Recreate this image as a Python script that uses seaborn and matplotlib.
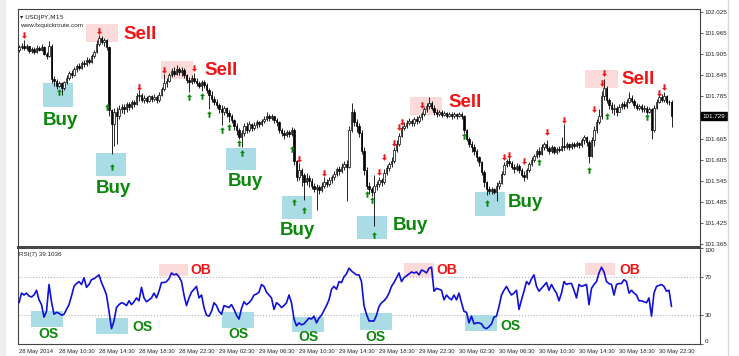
import numpy as np
import pandas as pd
import matplotlib
matplotlib.use("Agg")
import matplotlib.pyplot as plt
from matplotlib.patches import Rectangle
from matplotlib.transforms import blended_transform_factory
import seaborn as sns

# USDJPY M15 candles (bar 0 = 28 May 06:30)
first_open = 101.918
closes = [
    101.925, 101.930, 101.922, 101.928, 101.915, 101.921, 101.912, 101.924, 101.918, 101.926,
    101.905, 101.900, 101.930, 101.835, 101.828, 101.815, 101.822, 101.810, 101.825, 101.838,
    101.852, 101.846, 101.862, 101.871, 101.866, 101.880, 101.876, 101.890, 101.884, 101.899,
    101.912, 101.935, 101.952, 101.940, 101.945, 101.925, 101.745, 101.705, 101.740, 101.728,
    101.748, 101.755, 101.748, 101.762, 101.756, 101.770, 101.764, 101.785, 101.790, 101.776,
    101.781, 101.772, 101.785, 101.778, 101.784, 101.776, 101.790, 101.805, 101.822, 101.830,
    101.845, 101.858, 101.850, 101.862, 101.855, 101.860, 101.846, 101.832, 101.826, 101.838,
    101.830, 101.822, 101.815, 101.826, 101.818, 101.802, 101.790, 101.778, 101.770, 101.760,
    101.748, 101.740, 101.752, 101.738, 101.728, 101.718, 101.700, 101.688, 101.670, 101.682,
    101.700, 101.690, 101.706, 101.695, 101.703, 101.712, 101.705, 101.716, 101.722, 101.730,
    101.724, 101.728, 101.718, 101.712, 101.690, 101.682, 101.675, 101.684, 101.678, 101.690,
    101.600, 101.555, 101.575, 101.560, 101.540, 101.552, 101.545, 101.530, 101.522, 101.528,
    101.518, 101.530, 101.542, 101.536, 101.548, 101.556, 101.565, 101.578, 101.572, 101.585,
    101.592, 101.585, 101.690, 101.740, 101.712, 101.700, 101.680, 101.630, 101.575, 101.530,
    101.520, 101.512, 101.530, 101.535, 101.548, 101.540, 101.568, 101.580, 101.592, 101.600,
    101.632, 101.650, 101.672, 101.695, 101.702, 101.710, 101.716, 101.708, 101.720, 101.714,
    101.726, 101.735, 101.748, 101.758, 101.765, 101.752, 101.740, 101.735, 101.740, 101.732,
    101.738, 101.730, 101.736, 101.728, 101.734, 101.730, 101.735, 101.728, 101.688, 101.665,
    101.650, 101.640, 101.630, 101.612, 101.598, 101.570, 101.540, 101.522, 101.515, 101.520,
    101.512, 101.530, 101.538, 101.565, 101.590, 101.602, 101.595, 101.585, 101.578, 101.588,
    101.575, 101.562, 101.556, 101.575, 101.592, 101.605, 101.615, 101.630, 101.622, 101.640,
    101.648, 101.638, 101.630, 101.640, 101.628, 101.636, 101.632, 101.645, 101.640, 101.648,
    101.640, 101.650, 101.644, 101.652, 101.646, 101.660, 101.668, 101.655, 101.615, 101.660,
    101.690, 101.712, 101.730, 101.785, 101.810, 101.775, 101.760, 101.748, 101.752, 101.742,
    101.755, 101.762, 101.758, 101.770, 101.780, 101.772, 101.760, 101.752, 101.758, 101.748,
    101.752, 101.742, 101.748, 101.690, 101.752, 101.770, 101.782, 101.775, 101.785, 101.770,
    101.768, 101.729,
]
highs = [
    101.931, 101.938, 101.945, 101.934, 101.930, 101.926, 101.925, 101.931, 101.928, 101.933,
    101.929, 101.912, 101.942, 101.934, 101.842, 101.834, 101.829, 101.826, 101.830, 101.845,
    101.858, 101.860, 101.868, 101.878, 101.880, 101.885, 101.889, 101.896, 101.895, 101.906,
    101.918, 101.945, 101.960, 101.957, 101.951, 101.948, 101.930, 101.748, 101.752, 101.755,
    101.760, 101.764, 101.762, 101.770, 101.768, 101.776, 101.775, 101.795, 101.802, 101.796,
    101.790, 101.786, 101.790, 101.789, 101.793, 101.788, 101.797, 101.812, 101.848, 101.838,
    101.852, 101.866, 101.868, 101.874, 101.870, 101.868, 101.865, 101.850, 101.840, 101.846,
    101.853, 101.838, 101.830, 101.833, 101.832, 101.822, 101.808, 101.800, 101.785, 101.778,
    101.766, 101.760, 101.758, 101.755, 101.745, 101.735, 101.722, 101.708, 101.695, 101.690,
    101.708, 101.712, 101.714, 101.710, 101.712, 101.718, 101.716, 101.722, 101.728, 101.740,
    101.736, 101.735, 101.730, 101.724, 101.715, 101.694, 101.690, 101.690, 101.688, 101.698,
    101.694, 101.605, 101.594, 101.580, 101.568, 101.566, 101.560, 101.552, 101.538, 101.535,
    101.532, 101.540, 101.556, 101.550, 101.555, 101.562, 101.572, 101.585, 101.588, 101.594,
    101.600, 101.605, 101.700, 101.765, 101.748, 101.722, 101.710, 101.690, 101.640, 101.585,
    101.540, 101.528, 101.560, 101.545, 101.556, 101.552, 101.578, 101.590, 101.598, 101.612,
    101.640, 101.660, 101.680, 101.702, 101.712, 101.718, 101.724, 101.722, 101.726, 101.728,
    101.732, 101.742, 101.756, 101.765, 101.782, 101.772, 101.760, 101.748, 101.746, 101.745,
    101.744, 101.742, 101.742, 101.740, 101.740, 101.738, 101.742, 101.740, 101.732, 101.692,
    101.670, 101.658, 101.648, 101.635, 101.615, 101.602, 101.575, 101.545, 101.530, 101.528,
    101.525, 101.540, 101.546, 101.572, 101.598, 101.608, 101.612, 101.600, 101.592, 101.595,
    101.592, 101.580, 101.572, 101.582, 101.598, 101.612, 101.622, 101.636, 101.640, 101.648,
    101.656, 101.660, 101.645, 101.646, 101.644, 101.642, 101.645, 101.668, 101.705, 101.655,
    101.652, 101.656, 101.655, 101.658, 101.656, 101.666, 101.676, 101.672, 101.660, 101.668,
    101.700, 101.720, 101.748, 101.800, 101.834, 101.815, 101.780, 101.768, 101.762, 101.758,
    101.764, 101.770, 101.772, 101.778, 101.798, 101.790, 101.778, 101.766, 101.764, 101.762,
    101.760, 101.758, 101.755, 101.752, 101.760, 101.778, 101.790, 101.792, 101.798, 101.788,
    101.776, 101.774,
]
lows = [
    101.912, 101.921, 101.918, 101.917, 101.910, 101.909, 101.906, 101.910, 101.913, 101.915,
    101.902, 101.892, 101.898, 101.822, 101.815, 101.806, 101.812, 101.790, 101.803, 101.820,
    101.833, 101.838, 101.842, 101.855, 101.860, 101.862, 101.870, 101.872, 101.878, 101.880,
    101.895, 101.908, 101.930, 101.933, 101.930, 101.918, 101.730, 101.622, 101.645, 101.650,
    101.722, 101.738, 101.736, 101.742, 101.747, 101.750, 101.755, 101.760, 101.772, 101.768,
    101.766, 101.765, 101.768, 101.770, 101.773, 101.767, 101.770, 101.785, 101.800, 101.812,
    101.826, 101.840, 101.843, 101.846, 101.845, 101.842, 101.838, 101.822, 101.798, 101.820,
    101.824, 101.815, 101.808, 101.800, 101.810, 101.795, 101.750, 101.770, 101.760, 101.752,
    101.738, 101.703, 101.732, 101.726, 101.712, 101.708, 101.690, 101.675, 101.663, 101.642,
    101.672, 101.680, 101.684, 101.686, 101.690, 101.696, 101.698, 101.700, 101.708, 101.714,
    101.716, 101.718, 101.710, 101.700, 101.682, 101.672, 101.665, 101.668, 101.670, 101.672,
    101.590, 101.545, 101.548, 101.530, 101.490, 101.532, 101.528, 101.520, 101.512, 101.462,
    101.508, 101.512, 101.525, 101.526, 101.530, 101.538, 101.548, 101.558, 101.562, 101.566,
    101.574, 101.488, 101.580, 101.685, 101.700, 101.685, 101.670, 101.620, 101.560, 101.520,
    101.508, 101.500, 101.416, 101.518, 101.526, 101.530, 101.536, 101.560, 101.572, 101.585,
    101.596, 101.628, 101.645, 101.668, 101.688, 101.696, 101.704, 101.700, 101.702, 101.706,
    101.710, 101.718, 101.730, 101.742, 101.750, 101.745, 101.732, 101.725, 101.728, 101.726,
    101.728, 101.724, 101.726, 101.722, 101.724, 101.722, 101.726, 101.720, 101.680, 101.658,
    101.640, 101.628, 101.618, 101.600, 101.586, 101.560, 101.528, 101.505, 101.508, 101.508,
    101.506, 101.488, 101.522, 101.535, 101.560, 101.585, 101.588, 101.578, 101.568, 101.572,
    101.566, 101.555, 101.545, 101.550, 101.570, 101.586, 101.598, 101.610, 101.612, 101.618,
    101.632, 101.630, 101.622, 101.625, 101.620, 101.622, 101.626, 101.630, 101.632, 101.635,
    101.632, 101.636, 101.638, 101.640, 101.638, 101.642, 101.650, 101.645, 101.594, 101.612,
    101.645, 101.682, 101.705, 101.720, 101.775, 101.765, 101.748, 101.738, 101.732, 101.730,
    101.740, 101.748, 101.750, 101.752, 101.765, 101.765, 101.752, 101.745, 101.745, 101.740,
    101.742, 101.736, 101.738, 101.665, 101.685, 101.748, 101.765, 101.768, 101.770, 101.762,
    101.760, 101.697,
]
rsi_values = [
    43, 53, 51, 53, 50, 49, 51, 56, 46, 41,
    28, 34, 62, 44, 31, 33, 32, 30, 31, 36,
    41, 50, 60, 63, 65, 62, 69, 59, 62, 67,
    68, 70, 72, 64, 58, 51, 34, 16, 24, 38,
    41, 43, 42, 40, 45, 41, 44, 48, 45, 59,
    48, 44, 46, 48, 53, 48, 55, 64, 64, 65,
    68, 74, 72, 73, 70, 65, 51, 40, 48, 54,
    57, 60, 48, 51, 38, 30, 29, 34, 43, 40,
    34, 31, 40, 39, 38, 41, 36, 30, 26, 37,
    44, 41, 43, 46, 51, 52, 54, 62, 60, 54,
    51, 48, 36, 43, 41, 38, 40, 43, 51, 43,
    26, 19, 22, 20, 21, 24, 27, 26, 29, 22,
    27, 30, 35, 40, 46, 57, 60, 57, 65, 64,
    70, 73, 79, 76, 74, 72, 72, 65, 40, 31,
    24, 24, 24, 30, 39, 43, 45, 48, 53, 60,
    64, 69, 74, 65, 69, 71, 73, 75, 74, 75,
    72, 77, 76, 74, 79, 80, 55, 58, 57, 56,
    46, 51, 48, 46, 51, 46, 53, 43, 34, 33,
    22, 29, 21, 22, 22, 21, 17, 16, 18, 21,
    28, 29, 39, 51, 56, 60, 55, 51, 53, 56,
    36, 46, 55, 65, 62, 68, 72, 60, 55, 58,
    61, 64, 56, 62, 57, 53, 45, 53, 65, 62,
    63, 63, 56, 48, 62, 60, 61, 62, 41, 58,
    62, 65, 74, 80, 75, 65, 63, 62, 51, 62,
    63, 63, 67, 65, 53, 56, 53, 51, 45, 45,
    44, 43, 48, 29, 53, 60, 61, 62, 60, 55,
    56, 39.1036,
]

# signal arrows: bar index and price
sell_bars = [2, 32, 48, 58, 70, 112, 122, 144, 146, 150, 152, 153, 161,
             194, 196, 202, 211, 218, 230, 233, 234, 256, 258]
sell_prices = [101.959, 101.971, 101.813, 101.859, 101.865, 101.608, 101.568,
               101.571, 101.611, 101.651, 101.697, 101.711, 101.760, 101.611,
               101.619, 101.602, 101.685, 101.719, 101.748, 101.822, 101.851,
               101.794, 101.811]
buy_bars = [16, 35, 37, 68, 73, 76, 81, 84, 88, 89, 109, 110, 114, 139,
            141, 142, 178, 187, 208, 228, 235, 251]
buy_prices = [101.798, 101.756, 101.585, 101.782, 101.785, 101.736, 101.688,
              101.699, 101.651, 101.625, 101.636, 101.485, 101.462, 101.508,
              101.490, 101.391, 101.671, 101.482, 101.599, 101.576, 101.728,
              101.725]

date_labels = ["28 May 2014", "28 May 10:30", "28 May 14:30", "28 May 18:30",
               "28 May 22:30", "29 May 02:30", "29 May 06:30", "29 May 10:30",
               "29 May 14:30", "29 May 18:30", "29 May 22:30", "30 May 02:30",
               "30 May 06:30", "30 May 10:30", "30 May 14:30", "30 May 18:30",
               "30 May 22:30"]
price_ticks = [101.365, 101.425, 101.485, 101.545, 101.605, 101.665,
               101.785, 101.845, 101.905, 101.965, 102.025]
rsi_ticks = [0, 30, 70, 100]
last_price = 101.729

# highlight boxes (x0, x1, y0, y1) and label spots
buy_boxes = [(9.6, 21.6, 101.754, 101.822), (30.8, 42.8, 101.559, 101.625),
             (82.8, 94.8, 101.574, 101.639), (105, 117, 101.437, 101.502),
             (135, 147, 101.379, 101.445), (182.4, 194.4, 101.445, 101.514)]
buy_text = [(16.4, 101.716), (37.6, 101.522), (90.4, 101.542),
            (111.2, 101.402), (156.4, 101.416), (202.4, 101.482)]
sell_boxes = [(26.8, 39.6, 101.939, 101.991), (56.8, 69.6, 101.834, 101.885),
              (156.4, 169.2, 101.731, 101.782), (226.4, 239.6, 101.808, 101.859)]
sell_text = [(48.4, 101.962), (80.8, 101.859), (178.4, 101.768), (247.6, 101.834)]
os_boxes = [(4.8, 17.6, 17.7, 34.1), (30.8, 43.6, 10.5, 26.9), (81.2, 94, 16.7, 33.1),
            (109.2, 122, 12.6, 27.9), (136.4, 149.2, 14.6, 32), (178.4, 191.2, 13.6, 30)]
os_text = [(11.6, 10.5), (49.2, 17.7), (87.6, 10.5), (115.6, 7.4), (142.4, 7.4), (196.4, 18.7)]
ob_boxes = [(56, 67.6, 71, 83.3), (154, 166, 70, 84.4), (226.4, 238.4, 72, 84.4)]
ob_text = [(72.8, 77.2), (171.2, 77.2), (244.4, 77.2)]

BOX_BLUE = "#a9dce4"
BOX_PINK = "#fbdada"
GREEN = "#0b870b"
RED = "#f21414"

sns.set_style("white")
plt.rcParams["font.family"] = ["Liberation Sans", "DejaVu Sans"]

fig = plt.figure(figsize=(7.39, 3.56), dpi=100)
ax = fig.add_axes([18 / 739, 1 - 247 / 356, 682 / 739, 238 / 356])
ax2 = fig.add_axes([18 / 739, 1 - 344 / 356, 682 / 739, 96 / 356], sharex=ax)

fig.patches.append(Rectangle((0, 0), 5 / 739, 1, transform=fig.transFigure,
                             color="#eeeeee", zorder=0))
fig.add_artist(plt.Line2D([728 / 739, 728 / 739], [0, 1], color="#d8d8d8", lw=1))

# candles
bars = np.arange(len(closes))
c = np.array(closes)
o = np.array([first_open] + closes[:-1])
up = c >= o
ax.vlines(bars, lows, highs, color="black", lw=0.6, zorder=3)
ax.bar(bars[up], c[up] - o[up], bottom=o[up], width=0.6, color="white",
       edgecolor="black", lw=0.5, zorder=4)
ax.bar(bars[~up], c[~up] - o[~up], bottom=o[~up], width=0.6, color="black",
       edgecolor="black", lw=0.5, zorder=4)

down_arrow = [(0, -1), (-0.75, -0.15), (-0.3, -0.15), (-0.3, 1), (0.3, 1),
              (0.3, -0.15), (0.75, -0.15), (0, -1)]
up_arrow = [(px, -py) for px, py in down_arrow]
sns.scatterplot(x=sell_bars, y=sell_prices, ax=ax, marker=down_arrow, s=22,
                color=RED, linewidth=0, zorder=6)
sns.scatterplot(x=buy_bars, y=buy_prices, ax=ax, marker=up_arrow, s=22,
                color=GREEN, linewidth=0, zorder=6)

for (x0, x1, y0, y1) in buy_boxes:
    ax.add_patch(Rectangle((x0, y0), x1 - x0, y1 - y0, color=BOX_BLUE, lw=0, zorder=1))
for (x0, x1, y0, y1) in sell_boxes:
    ax.add_patch(Rectangle((x0, y0), x1 - x0, y1 - y0, color=BOX_PINK, lw=0, zorder=1))
for (tx, ty) in buy_text:
    ax.text(tx, ty, "Buy", color=GREEN, fontsize=13.5, fontweight="bold",
            ha="center", va="center", zorder=7)
for (tx, ty) in sell_text:
    ax.text(tx, ty, "Sell", color=RED, fontsize=13.5, fontweight="bold",
            ha="center", va="center", zorder=7)

ax.set_xlim(-0.4, 272.4)
ax.set_ylim(101.356, 102.034)
ax.yaxis.tick_right()
ax.set_yticks(price_ticks, [f"{t:.3f}" for t in price_ticks])
ax.tick_params(axis="y", labelsize=4.5, length=2, width=0.5, pad=1.5, colors="#222222")
ax.tick_params(axis="x", bottom=False, labelbottom=False)
ax.text(0.003, 0.975, "\u25be USDJPY,M15", transform=ax.transAxes, fontsize=4.6,
        ha="left", va="top", family=["DejaVu Sans"])
ax.text(0.003, 0.94, "www.fxquickroute.com", transform=ax.transAxes, fontsize=4.6,
        ha="left", va="top")
trans = blended_transform_factory(ax.transAxes, ax.transData)
ax.text(1.004, last_price, f"{last_price:.3f}", transform=trans, color="white",
        fontsize=4.5, ha="left", va="center",
        bbox=dict(boxstyle="square,pad=0.2", fc="black", ec="black"))

# RSI panel
rsi_df = pd.DataFrame({"bar": np.arange(len(rsi_values)), "rsi": rsi_values})
sns.lineplot(data=rsi_df, x="bar", y="rsi", ax=ax2, color="#1010d8", lw=1.2, zorder=5)
for lvl in (30, 70):
    ax2.axhline(lvl, color="#b5b5b5", ls=":", lw=0.8, zorder=0)
for (x0, x1, y0, y1) in os_boxes:
    ax2.add_patch(Rectangle((x0, y0), x1 - x0, y1 - y0, color=BOX_BLUE, lw=0, zorder=1))
for (x0, x1, y0, y1) in ob_boxes:
    ax2.add_patch(Rectangle((x0, y0), x1 - x0, y1 - y0, color=BOX_PINK, lw=0, zorder=1))
for (tx, ty) in os_text:
    ax2.text(tx, ty, "OS", color=GREEN, fontsize=10, fontweight="bold",
             ha="center", va="center", zorder=7)
for (tx, ty) in ob_text:
    ax2.text(tx, ty, "OB", color=RED, fontsize=10, fontweight="bold",
             ha="center", va="center", zorder=7)
ax2.text(0.002, 0.96, f"RSI(7) {rsi_values[-1]:.4f}", transform=ax2.transAxes,
         fontsize=4.5, ha="left", va="top")

ax2.set_ylim(1, 100)
ax2.yaxis.tick_right()
ax2.set_yticks(rsi_ticks, [str(t) for t in rsi_ticks])
ax2.tick_params(axis="y", labelsize=4.5, length=2, width=0.5, pad=1.5, colors="#222222")
labs = ax2.get_yticklabels()
labs[-1].set_va("top")
labs[0].set_va("bottom")
ax2.set_xticks(range(0, 16 * len(date_labels), 16), date_labels, ha="left")
ax2.tick_params(axis="x", labelsize=4.2, length=2, width=0.5, pad=1.5, colors="#222222")
ax2.set_xlabel("")
ax2.set_ylabel("")
ax.set_ylabel("")

for a in (ax, ax2):
    for sp in a.spines.values():
        sp.set_color("#444444")
        sp.set_linewidth(0.8)
ax.spines["bottom"].set_linewidth(1.4)
ax2.spines["top"].set_linewidth(1.4)

fig.savefig("out.png", dpi=100)
